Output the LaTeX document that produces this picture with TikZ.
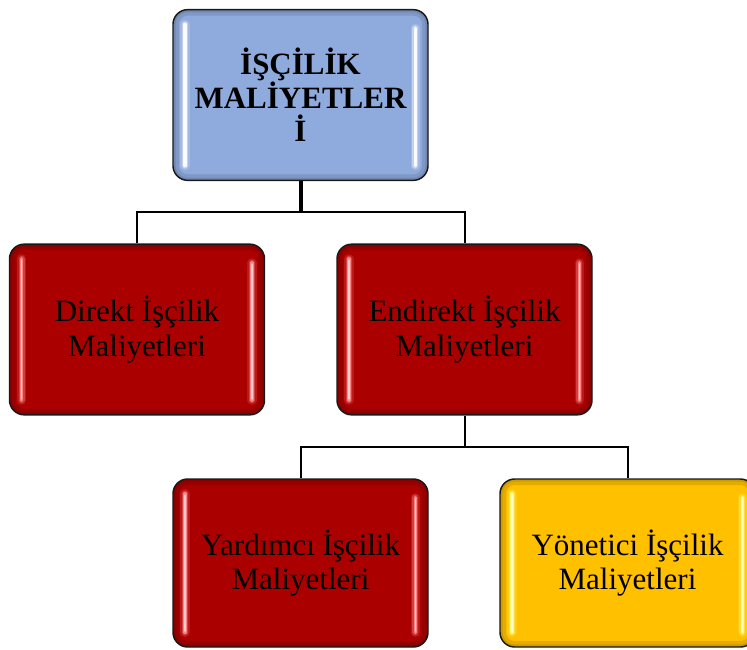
\documentclass[tikz,border=0pt]{standalone}
\usepackage{fontspec}
\setmainfont{Liberation Serif}

\definecolor{boxblue}{HTML}{8FAADC}
\definecolor{boxred}{HTML}{AA0000}
\definecolor{boxgold}{HTML}{FFC000}
\definecolor{glowblue}{HTML}{FFFFFF}
\definecolor{glowred}{HTML}{FF8C8C}
\definecolor{glowgold}{HTML}{FFFF80}

\tikzset{
  glow/.store in=\glowcol, glow=white,
  card/.style={
    draw=black!90, line width=1.1pt, rounded corners=11pt,
    minimum width=191.25pt, minimum height=128pt,
    align=center, font=\fontsize{23.25}{26}\selectfont, text=black,
    path picture={
      % soft darker rim just inside the border
      \draw[rounded corners=11pt, line width=9pt, black, opacity=0.10]
        (path picture bounding box.south west) rectangle (path picture bounding box.north east);
      \draw[rounded corners=11pt, line width=4pt, black, opacity=0.10]
        (path picture bounding box.south west) rectangle (path picture bounding box.north east);
      % glossy vertical highlights on both sides
      \foreach \w/\o in {7pt/0.18, 4.5pt/0.35, 2.6pt/0.9} {
        \draw[\glowcol, line width=\w, line cap=round, opacity=\o]
          ([xshift=9pt,yshift=-11pt]path picture bounding box.north west) --
          ([xshift=9pt,yshift=11pt]path picture bounding box.south west);
        \draw[\glowcol, line width=\w, line cap=round, opacity=\o]
          ([xshift=-9.5pt,yshift=-14pt]path picture bounding box.north east) --
          ([xshift=-9.5pt,yshift=11pt]path picture bounding box.south east);
      }
      \draw[white, line width=1pt, line cap=round, opacity=0.6]
        ([xshift=9pt,yshift=-12pt]path picture bounding box.north west) --
        ([xshift=9pt,yshift=12pt]path picture bounding box.south west);
      \draw[white, line width=1pt, line cap=round, opacity=0.6]
        ([xshift=-9.5pt,yshift=-15pt]path picture bounding box.north east) --
        ([xshift=-9.5pt,yshift=12pt]path picture bounding box.south east);
    }
  },
  headcard/.style={card, fill=boxblue, glow=glowblue,
    font=\fontsize{23.25}{25}\selectfont\bfseries},
  redcard/.style={card, fill=boxred, glow=glowred},
  goldcard/.style={card, fill=boxgold, glow=glowgold},
  trunk/.style={draw=black, line width=3pt},
  branch/.style={draw=black, line width=1.5pt}
}

\begin{document}
\begin{tikzpicture}[x=0.75pt, y=-0.75pt]
  \useasboundingbox (0,0) rectangle (747,650);

  % cards
  \node[headcard] (head) at (300.5,95) {İŞÇİLİK\\MALİYETLER\\İ};
  \node[redcard]  (direct) at (137,329.5) {Direkt İşçilik\\Maliyetleri};
  \node[redcard]  (indirect) at (464.5,329.5) {Endirekt İşçilik\\Maliyetleri};
  \node[redcard, minimum height=126pt] (helper) at (300.5,563) {Yardımcı İşçilik\\Maliyetleri};
  \node[goldcard, minimum height=126pt] (manager) at (627.5,563) {Yönetici İşçilik\\Maliyetleri};

  % junction points of the connectors
  \coordinate (j1) at (300.5,212);
  \coordinate (j2) at (464.5,447);

  % connectors
  \draw[trunk] (head) -- (j1);
  \draw[branch] (direct.north) |- (j1) -| (indirect.north);
  \draw[branch] (indirect) -- (j2);
  \draw[branch] (helper.north) |- (j2) -| (manager.north);
\end{tikzpicture}
\end{document}
